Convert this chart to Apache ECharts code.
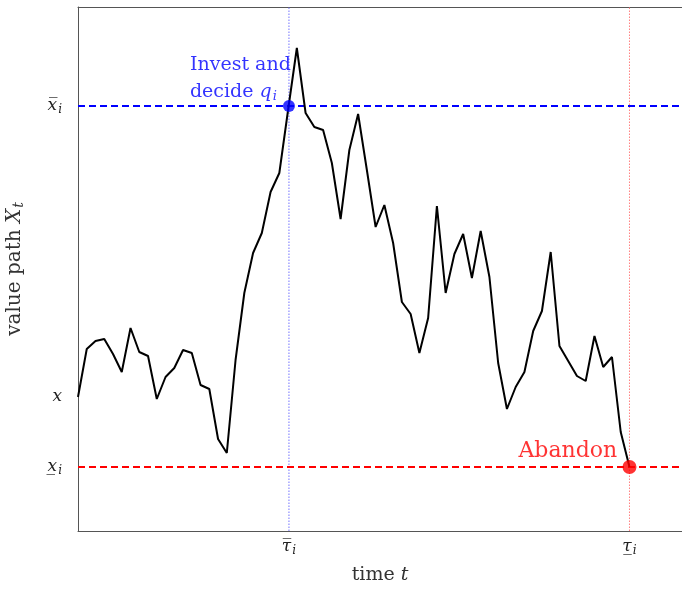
<!DOCTYPE html>
<html>
<head>
<meta charset="utf-8">
<script src="https://cdn.jsdelivr.net/npm/echarts@6/dist/echarts.min.js"></script>
<style>
html,body{margin:0;padding:0;background:#fff;}
#chart{width:682px;height:589px;}
</style>
</head>
<body>
<div id="chart"></div>
<script>
// time steps and value path
const timeSteps = [0,1,2,3,4,5,6,7,8,9,10,11,12,13,14,15,16,17,18,19,20,21,22,23,24,25,26,27,28,29,30,31,32,33,34,35,36,37,38,39,40,41,42,43,44,45,46,47,48,49,50,51,52,53,54,55,56,57,58,59,60,61,62,63];
const pathValues = [1.34,1.82,1.90,1.92,1.77,1.59,2.03,1.79,1.75,1.32,1.54,1.63,1.81,1.78,1.46,1.42,0.92,0.78,1.71,2.38,2.78,2.98,3.39,3.58,4.21,4.83,4.18,4.04,4.01,3.68,3.12,3.81,4.17,3.61,3.04,3.26,2.88,2.29,2.17,1.78,2.13,3.25,2.38,2.77,2.97,2.53,3.00,2.54,1.68,1.22,1.44,1.59,2.00,2.20,2.79,1.85,1.70,1.55,1.50,1.95,1.64,1.74,0.99,0.64];

// thresholds
const investLevel = 4.25;   // x̄_i
const startLevel = 1.34;    // x
const abandonLevel = 0.64;  // x_i (underlined)
const investTime = 24.1;    // τ̄_i
const abandonTime = 63;     // τ_i (underlined)
const yMin = 0, yMax = 5.24, tMin = 0, tMax = 69;

// tick labels
const yTickValues = [abandonLevel, startLevel, investLevel];
const yTickLabels = ['{m|x\u0332}{s|i}', '{m|x}', '{m|x\u0305}{s|i}'];
const xTickValues = [investTime, abandonTime];
const xTickLabels = ['{m|\u03c4\u0305}{s|i}', '{m|\u03c4\u0332}{s|i}'];

const serif = 'DejaVu Serif';
const ink = '#222';
const richMath = {
  m: {fontFamily: serif, fontStyle: 'italic', fontSize: 17, color: ink},
  s: {fontFamily: serif, fontStyle: 'italic', fontSize: 12, color: ink, padding: [8, 0, 0, 1]}
};

function lookup(vals, labels, v) {
  for (let i = 0; i < vals.length; i++) if (Math.abs(vals[i] - v) < 1e-6) return labels[i];
  return '';
}

function refLine(points, color, width, dash, z) {
  return {
    type: 'line', z: z, silent: true, symbol: 'none', showSymbol: false,
    data: points, lineStyle: {color: color, width: width, type: dash},
    emphasis: {disabled: true}
  };
}

const chart = echarts.init(document.getElementById('chart'), null, {renderer: 'canvas'});
chart.setOption({
  animation: false,
  backgroundColor: '#fff',
  grid: {left: 78, top: 7, right: 0, bottom: 58, containLabel: false, outerBoundsMode: 'none'},
  xAxis: [{
    type: 'value', min: tMin, max: tMax, position: 'bottom',
    axisLine: {show: true, onZero: false, lineStyle: {color: '#555', width: 1}},
    axisTick: {show: false},
    splitLine: {show: false},
    axisLabel: {
      show: true, margin: 6, customValues: xTickValues,
      formatter: v => lookup(xTickValues, xTickLabels, v),
      rich: richMath
    },
    name: 'time {i|t}', nameLocation: 'middle', nameGap: 35,
    nameTextStyle: {fontFamily: serif, fontSize: 19, color: '#333',
      rich: {i: {fontFamily: serif, fontStyle: 'italic', fontSize: 19, color: '#333'}}}
  }, {
    type: 'value', min: tMin, max: tMax, position: 'top',
    axisLine: {show: true, onZero: false, lineStyle: {color: '#555', width: 1}},
    axisTick: {show: false}, axisLabel: {show: false}, splitLine: {show: false}
  }],
  yAxis: {
    type: 'value', min: yMin, max: yMax,
    axisLine: {show: true, onZero: false, lineStyle: {color: '#555', width: 1}},
    axisTick: {show: false},
    splitLine: {show: false},
    axisLabel: {
      show: true, margin: 16, customValues: yTickValues,
      formatter: v => lookup(yTickValues, yTickLabels, v),
      rich: richMath
    },
    name: 'value path {i|X}{s|t}', nameLocation: 'middle', nameGap: 52,
    nameTextStyle: {fontFamily: serif, fontSize: 20, color: '#333',
      rich: {
        i: {fontFamily: serif, fontStyle: 'italic', fontSize: 20, color: '#333'},
        s: {fontFamily: serif, fontStyle: 'italic', fontSize: 14, color: '#333', padding: [9, 0, 0, 1]}
      }}
  },
  series: [
    refLine([[investTime, yMin], [investTime, yMax]], '#7373ff', 1, [1.5, 1.5], 1),
    refLine([[abandonTime, yMin], [abandonTime, yMax]], '#ff8080', 1, [1.5, 1.5], 1),
    refLine([[tMin, investLevel], [tMax, investLevel]], '#0000ff', 2.2, [7, 4], 2),
    refLine([[tMin, abandonLevel], [tMax, abandonLevel]], '#ff0000', 2.2, [7, 4], 2),
  {
    type: 'line', z: 3, silent: true,
    data: timeSteps.map((t, i) => [t, pathValues[i]]),
    showSymbol: false, symbol: 'none',
    lineStyle: {color: '#000', width: 2}
  }, {
    type: 'scatter', z: 5, silent: true,
    data: [{
      value: [investTime, investLevel], symbolSize: 12,
      itemStyle: {color: '#0000ff'},
      label: {
        show: true, position: [-93, -48], align: 'left', verticalAlign: 'top',
        formatter: 'Invest and\ndecide {i|q}{s|i}',
        fontFamily: serif, fontSize: 19, lineHeight: 27, color: '#0000ff',
        rich: {
          i: {fontFamily: serif, fontStyle: 'italic', fontSize: 19, color: '#0000ff', lineHeight: 27},
          s: {fontFamily: serif, fontStyle: 'italic', fontSize: 13, color: '#0000ff', padding: [9, 0, 0, 1]}
        }
      }
    }, {
      value: [abandonTime, abandonLevel], symbolSize: 14,
      itemStyle: {color: '#ff0000'},
      label: {
        show: true, position: [-104, -21], align: 'left', verticalAlign: 'top',
        formatter: 'Abandon', fontFamily: serif, fontSize: 22, lineHeight: 24, color: '#ff0000'
      }
    }]
  }]
});
</script>
</body>
</html>
